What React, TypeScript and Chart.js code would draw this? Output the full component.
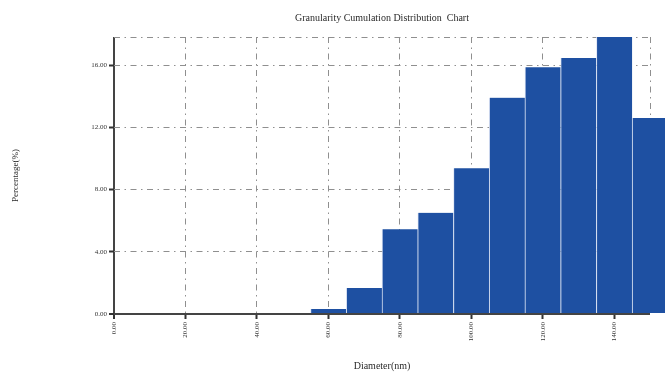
import React, { useEffect, useRef } from "react";
import { Chart, registerables } from "chart.js";

Chart.register(...registerables);

const diameters = [60, 70, 80, 90, 100, 110, 120, 130, 140, 150];
const percentages = [0.32, 1.67, 5.45, 6.5, 9.36, 13.9, 15.85, 16.45, 17.8, 12.6];
const xTickValues = [0, 20, 40, 60, 80, 100, 120, 140, 150];
const yTickValues = [0, 4, 8, 12, 16, 17.8];
const xLabelledTicks = [0, 20, 40, 60, 80, 100, 120, 140];
const yLabelledTicks = [0, 4, 8, 12, 16];
const chartTitle = "Granularity Cumulation Distribution  Chart";
const xTitle = "Diameter(nm)";
const yTitle = "Percentage(%)";

const SERIF = "'Liberation Serif', 'DejaVu Serif', serif";
const GRID_DASH = [6, 4.5, 1.5, 4.5];

const titlePlugin = {
  id: "customTitle",
  afterDraw(chart: any) {
    const { ctx, chartArea } = chart;
    ctx.save();
    ctx.font = `10px ${SERIF}`;
    ctx.fillStyle = "#2a2a2a";
    ctx.textAlign = "center";
    ctx.textBaseline = "middle";
    ctx.fillText(chartTitle, (chartArea.left + chartArea.right) / 2, 18);
    ctx.restore();
  },
};

export default function App() {
  const ref = useRef<HTMLCanvasElement>(null);
  useEffect(() => {
    if (!ref.current) return;
    const chart = new Chart(ref.current, {
      type: "bar",
      data: {
        datasets: [
          {
            data: diameters.map((x, i) => ({ x, y: percentages[i] })),
            backgroundColor: "#1e50a2",
            borderColor: "rgba(220,228,245,0.85)",
            borderWidth: { left: 1, right: 0, top: 0, bottom: 0 },
            barPercentage: 1,
            categoryPercentage: 1,
            clip: false as any,
          },
        ],
      },
      plugins: [titlePlugin],
      options: {
        animation: false,
        responsive: false,
        layout: { padding: { top: 37, right: 15, left: 0, bottom: 0 } },
        plugins: { legend: { display: false }, tooltip: { enabled: false }, title: { display: false } },
        scales: {
          x: {
            type: "linear",
            min: 0,
            max: 150,
            offset: false,
            afterBuildTicks: (s: any) => {
              s.ticks = xTickValues.map((v) => ({ value: v }));
            },
            afterFit: (s: any) => {
              s.height = 60;
            },
            grid: {
              offset: false,
              color: (c: any) => (c.tick && c.tick.value === 0 ? "#444" : "#8f8f8f"),
              lineWidth: (c: any) => (c.tick && c.tick.value === 0 ? 2 : 1),
              tickColor: (c: any) => (c.tick && xLabelledTicks.includes(c.tick.value) ? "#333" : "rgba(0,0,0,0)"),
              tickLength: 5,
              tickWidth: 2,
              tickBorderDash: [],
            },
            border: {
              display: false,
              dash: (c: any) => (c.tick && c.tick.value === 0 ? [] : GRID_DASH),
            } as any,
            ticks: {
              minRotation: 90,
              maxRotation: 90,
              autoSkip: false,
              padding: 3,
              color: "#333",
              font: { family: SERIF, size: 7 },
              callback: (v: any) => (xLabelledTicks.includes(Number(v)) ? Number(v).toFixed(2) : ""),
            },
            title: {
              display: true,
              text: xTitle,
              color: "#2a2a2a",
              font: { family: SERIF, size: 10 },
              padding: { top: 0, bottom: 2 },
            },
          },
          y: {
            type: "linear",
            min: 0,
            max: 17.8,
            afterBuildTicks: (s: any) => {
              s.ticks = yTickValues.map((v) => ({ value: v }));
            },
            afterFit: (s: any) => {
              s.width = 114;
            },
            grid: {
              color: (c: any) => (c.tick && c.tick.value === 0 ? "#444" : "#8f8f8f"),
              lineWidth: (c: any) => (c.tick && c.tick.value === 0 ? 2 : 1),
              tickColor: (c: any) => (c.tick && yLabelledTicks.includes(c.tick.value) ? "#333" : "rgba(0,0,0,0)"),
              tickLength: 5,
              tickWidth: 2,
              tickBorderDash: [],
            },
            border: {
              display: false,
              dash: (c: any) => (c.tick && c.tick.value === 0 ? [] : GRID_DASH),
            } as any,
            ticks: {
              autoSkip: false,
              padding: 2,
              color: "#333",
              font: { family: SERIF, size: 7 },
              callback: (v: any) => (yLabelledTicks.includes(Number(v)) ? Number(v).toFixed(2) : ""),
            },
            title: {
              display: true,
              text: yTitle,
              color: "#2a2a2a",
              font: { family: SERIF, size: 9 },
              padding: { top: 10, bottom: 0 },
            },
          },
        },
      } as any,
    });
    return () => chart.destroy();
  }, []);
  return (
    <div style={{ position: "absolute", left: 0, top: 0, width: 665, height: 374, background: "#fff" }}>
      <canvas ref={ref} width={665} height={374} />
    </div>
  );
}
